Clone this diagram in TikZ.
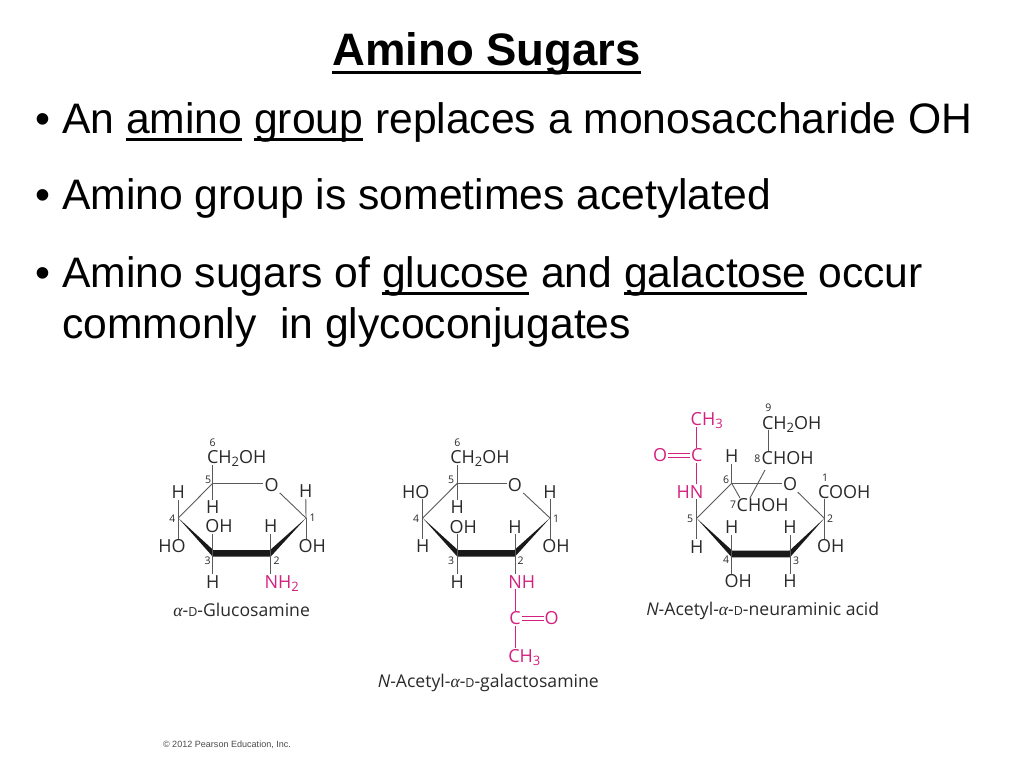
\documentclass[tikz,border=0pt]{standalone}
\usepackage{fontspec}
\setmainfont{Liberation Sans}
\newfontfamily\chemfont{Open Sans}
\newfontfamily\greekfont{Liberation Serif}
\definecolor{pinkchem}{HTML}{D4217F}
\definecolor{inkchem}{HTML}{2A2A2A}
\definecolor{bondgray}{HTML}{5A5A5A}
\newcommand\ulin[1]{\leavevmode\setbox0=\hbox{#1}\rlap{\vrule height -0.125em depth 0.195em width\wd0}#1}
\newcommand\lsub[1]{\raisebox{-0.3ex}{\fontsize{13}{14}\selectfont #1}}
\newcommand\alphaD{{\greekfont\itshape α}-{\fontsize{12.5}{13}\selectfont D}-}
\newcommand\ringfill[4]{\fill[black!90] (#1) -- ([xshift=0.6pt,yshift=3.3pt]#2) -- ([xshift=-0.6pt,yshift=3.3pt]#3) -- (#4) -- ([yshift=-3.3pt]#3) -- ([yshift=-3.3pt]#2) -- cycle;}
\tikzset{
  slide/.style={anchor=base west,inner sep=0pt,font=\fontsize{42.65}{46}\selectfont,text=black},
  atom/.style={inner sep=1pt,font=\chemfont\fontsize{18}{20}\selectfont,text=inkchem,text height=12.9pt,text depth=0pt},
  pinkatom/.style={atom,text=pinkchem},
  num/.style={inner sep=0pt,font=\chemfont\fontsize{10.5}{11}\selectfont,text=inkchem},
  caption/.style={inner sep=0pt,font=\chemfont\fontsize{17.6}{20}\selectfont,text=inkchem},
  bond/.style={draw=bondgray,line width=0.9pt},
  pinkbond/.style={draw=pinkchem,line width=0.9pt}
}
\begin{document}
\begin{tikzpicture}[x=1pt,y=-1pt]
\useasboundingbox[fill=white] (0,0) rectangle (1024,768);
% slide text
\node[anchor=base,inner sep=0pt,font=\bfseries\fontsize{45.5}{48}\selectfont] (title) at (486.5,65) {\ulin{Amino Sugars}};
\node[slide] (b1) at (35,133) {•};
\node[slide] (l1) at (62,133) {An \ulin{amino} \ulin{group} replaces a monosaccharide OH};
\node[slide] (b2) at (35,209) {•};
\node[slide] (l2) at (62,209) {Amino group is sometimes acetylated};
\node[slide] (b3) at (35,287) {•};
\node[slide] (l3) at (62,287) {Amino sugars of \ulin{glucose} and \ulin{galactose} occur};
\node[slide] (l4) at (62,338) {commonly\ \ in glycoconjugates};

% ---------- glucosamine
\coordinate (ac5) at (212.7,483.3);
\coordinate (ac1) at (306,518);
\coordinate (ac2) at (270.7,553.3);
\coordinate (ac3) at (212.7,553.3);
\coordinate (ac4) at (178.3,518);
\ringfill{ac4}{ac3}{ac2}{ac1}
\node[atom] (aO) at (271.7,485.2) {O};
\node[atom] (ach) at (236.7,457) {CH\lsub{2}OH};
\node[atom] (aH4) at (178.3,492.2) {H};
\node[atom] (aHO) at (172,546.2) {HO};
\node[atom] (aH5) at (212.7,507.2) {H};
\node[atom] (aOH3) at (219,526.5) {OH};
\node[atom] (aH2) at (270.7,526.2) {H};
\node[atom] (aH1) at (305.7,491.5) {H};
\node[atom] (aOH1) at (312.3,546.2) {OH};
\node[atom] (aH3) at (212.7,581.8) {H};
\node[pinkatom] (aN) at (281.7,581.8) {NH\lsub{2}};
\node[num] (an6) at (212.7,442.7) {6};
\node[num] (an5) at (208,480) {5};
\node[num] (an4) at (172.3,519) {4};
\node[num] (an3) at (207.7,560.7) {3};
\node[num] (an2) at (276.7,560.7) {2};
\node[num] (an1) at (312.7,518) {1};
\node[caption] (acap) at (241.7,610) {\alphaD Glucosamine};
\draw[bond] (ac5) -- (aO.west |- ac5);
\draw[bond] (aO) -- (ac1);
\draw[bond] (ac5) -- (ac4);
\draw[bond] (ac5) -- (ac5 |- ach.south);
\draw[bond] (ac5) -- (aH5);
\draw[bond] (ac4) -- (aH4);
\draw[bond] (ac4) -- (ac4 |- aHO.north);
\draw[bond] (ac3) -- (ac3 |- aOH3.south);
\draw[bond] (ac3) -- (aH3);
\draw[bond] (ac2) -- (aH2);
\draw[bond] (ac2) -- (ac2 |- aN.north);
\draw[bond] (ac1) -- (aH1);
\draw[bond] (ac1) -- (ac1 |- aOH1.north);

% ---------- N-acetyl-galactosamine
\coordinate (bc5) at (457.3,483.3);
\coordinate (bc1) at (550,518);
\coordinate (bc2) at (515,553.3);
\coordinate (bc3) at (457.3,553.3);
\coordinate (bc4) at (422.7,518);
\ringfill{bc4}{bc3}{bc2}{bc1}
\node[atom] (bO) at (515,485.2) {O};
\node[atom] (bch) at (480,457) {CH\lsub{2}OH};
\node[atom] (bHO) at (415.7,491.8) {HO};
\node[atom] (bH4) at (422.7,546.2) {H};
\node[atom] (bH5) at (457.3,507.2) {H};
\node[atom] (bOH3) at (463.3,526.8) {OH};
\node[atom] (bH2) at (515,526.8) {H};
\node[atom] (bH1) at (550,491.8) {H};
\node[atom] (bOH1) at (556,546.2) {OH};
\node[atom] (bH3) at (457.3,581.8) {H};
\node[pinkatom] (bN) at (521.7,581.8) {NH};
\node[pinkatom] (bC) at (515,618.5) {C};
\node[pinkatom] (bOx) at (551.7,618.5) {O};
\node[pinkatom] (bMe) at (524.3,656) {CH\lsub{3}};
\node[num] (bn6) at (457.3,442.7) {6};
\node[num] (bn5) at (451,480) {5};
\node[num] (bn4) at (416,518.3) {4};
\node[num] (bn3) at (451,560.7) {3};
\node[num] (bn2) at (520.7,560.7) {2};
\node[num] (bn1) at (556,518.3) {1};
\node[caption] (bcap) at (488.3,682.8) {\textit{N}-Acetyl-\alphaD galactosamine};
\draw[bond] (bc5) -- (bO.west |- bc5);
\draw[bond] (bO) -- (bc1);
\draw[bond] (bc5) -- (bc4);
\draw[bond] (bc5) -- (bc5 |- bch.south);
\draw[bond] (bc5) -- (bH5);
\draw[bond] (bc4) -- (bc4 |- bHO.south);
\draw[bond] (bc4) -- (bH4);
\draw[bond] (bc3) -- (bc3 |- bOH3.south);
\draw[bond] (bc3) -- (bH3);
\draw[bond] (bc2) -- (bH2);
\draw[bond] (bc2) -- (bc2 |- bN.north);
\draw[bond] (bc1) -- (bH1);
\draw[bond] (bc1) -- (bc1 |- bOH1.north);
\draw[pinkbond] (bC |- bN.south) -- (bC);
\draw[pinkbond] (bC) -- (bC |- bMe.north);
\draw[pinkbond] ([yshift=2.2pt]bC.east) -- ([yshift=2.2pt]bOx.west);
\draw[pinkbond] ([yshift=-2.2pt]bC.east) -- ([yshift=-2.2pt]bOx.west);

% ---------- N-acetyl-neuraminic acid
\coordinate (cc6) at (731.7,483.3);
\coordinate (cc2) at (824.3,518.3);
\coordinate (cc3) at (790,554);
\coordinate (cc4) at (731.7,554);
\coordinate (cc5) at (696.7,518.3);
\ringfill{cc5}{cc4}{cc3}{cc2}
\node[atom] (cO) at (790,484.5) {O};
\node[pinkatom] (cMe) at (706.7,419.5) {CH\lsub{3}};
\node[pinkatom] (cC) at (696.7,455.5) {C};
\node[pinkatom] (cOx) at (660,455.5) {O};
\node[pinkatom] (cN) at (690,491.8) {HN};
\node[atom] (cH6) at (731.7,456.2) {H};
\node[atom] (cch) at (791.7,422.8) {CH\lsub{2}OH};
\node[atom] (cC8) at (787.7,458.5) {CHOH};
\node[atom] (cC7) at (762.7,505.2) {CHOH};
\node[atom] (cCOOH) at (844.3,491.8) {COOH};
\node[atom] (cH5) at (696.7,546.8) {H};
\node[atom] (cH4) at (731.7,527.2) {H};
\node[atom] (cH3) at (790,527.2) {H};
\node[atom] (cOH2) at (830.7,546.2) {OH};
\node[atom] (cOH4) at (738.3,581.2) {OH};
\node[atom] (cH3b) at (790,581.2) {H};
\node[num] (cn9) at (768.3,408) {9};
\node[num] (cn8) at (757.3,458.3) {8};
\node[num] (cn7) at (733,505) {7};
\node[num] (cn6) at (726,480) {6};
\node[num] (cn5) at (690,518.3) {5};
\node[num] (cn4) at (726,560) {4};
\node[num] (cn3) at (796,560.7) {3};
\node[num] (cn2) at (830,518.3) {2};
\node[num] (cn1) at (825,477.7) {1};
\node[caption] (ccap) at (762.7,611) {\textit{N}-Acetyl-\alphaD neuraminic acid};
\coordinate (cb7a) at (740,498);
\coordinate (cb8a) at (765,470);
\coordinate (cb8b) at (750,498);
\draw[bond] (cc6) -- (cO.west |- cc6);
\draw[bond] (cO) -- (cc2);
\draw[bond] (cc6) -- (cc5);
\draw[bond] (cc6) -- (cH6);
\draw[bond] (cc6) -- (cb7a);
\draw[bond] (cb8a) -- (cb8b);
\draw[bond] (cC8.north -| cn9) -- (cch.south -| cn9);
\draw[bond] (cc2) -- (cc2 |- cCOOH.south);
\draw[bond] (cc2) -- (cc2 |- cOH2.north);
\draw[bond] (cc5) -- (cc5 |- cN.south);
\draw[bond] (cc5) -- (cH5);
\draw[bond] (cc4) -- (cH4);
\draw[bond] (cc4) -- (cc4 |- cOH4.north);
\draw[bond] (cc3) -- (cH3);
\draw[bond] (cc3) -- (cH3b);
\draw[pinkbond] (cC) -- (cC |- cN.north);
\draw[pinkbond] (cC) -- (cC |- cMe.south);
\draw[pinkbond] ([yshift=2.2pt]cOx.east) -- ([yshift=2.2pt]cC.west);
\draw[pinkbond] ([yshift=-2.2pt]cOx.east) -- ([yshift=-2.2pt]cC.west);

% copyright
\node[inner sep=0pt,font=\fontsize{9.05}{10}\selectfont,text=black!70] (copy) at (227,745) {© 2012 Pearson Education, Inc.};
\end{tikzpicture}
\end{document}
